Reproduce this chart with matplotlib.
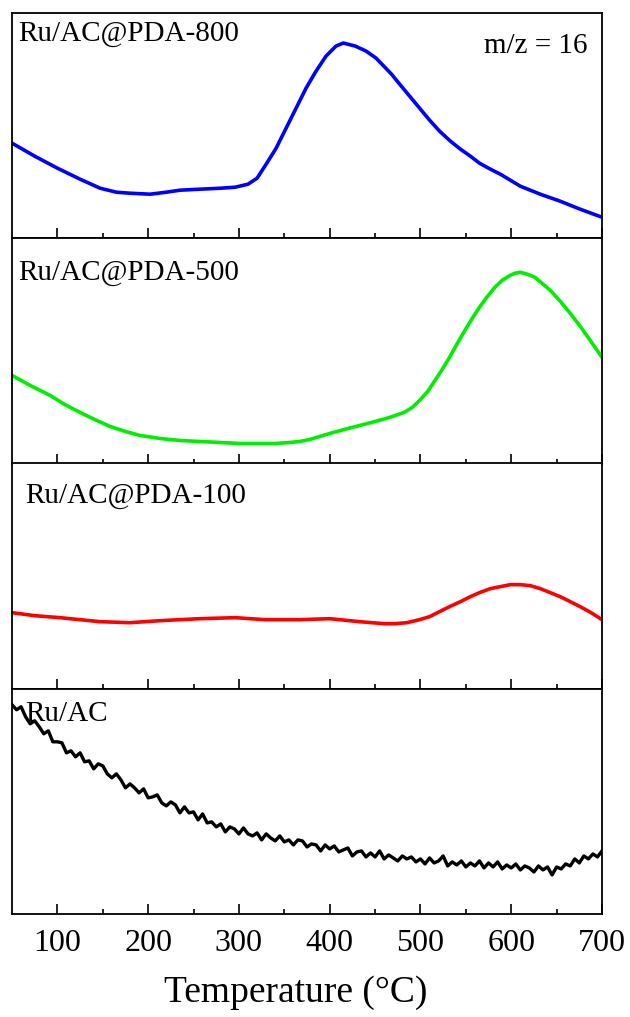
import numpy as np
import matplotlib
matplotlib.use("Agg")
import matplotlib.pyplot as plt
from matplotlib.ticker import FixedLocator

plt.rcParams['font.family'] = ['Liberation Serif', 'DejaVu Serif']

# Ru/AC@PDA-800 (blue), signal in a.u.
t800 = [50, 75, 100, 125, 147, 165, 180, 202, 220, 235, 257, 280, 296, 310, 320,
        330, 341, 352, 363, 374, 385, 396, 407, 415, 428, 440, 451, 468, 477, 488,
        499, 510, 521, 533, 544, 555, 565, 577, 588, 599, 610, 632, 654, 676, 700]
s800 = [95, 82, 70, 59, 50, 46, 45, 44, 46, 48, 49, 50, 51, 54, 60,
        74, 90, 110, 130, 150, 167, 182, 192, 195, 192, 187, 180, 164, 154, 142,
        130, 118, 107, 97, 89, 82, 75, 69, 64, 58, 52, 44, 37, 29, 21]

# Ru/AC@PDA-500 (green)
t500 = [50, 70, 92, 108, 125, 141, 158, 175, 191, 213, 235, 257, 279, 301, 323,
        340, 356, 367, 378, 389, 400, 416, 433, 450, 466, 482, 491, 499, 508, 516,
        524, 532, 540, 549, 557, 565, 573, 582, 590, 599, 604, 610, 618, 626, 634,
        643, 654, 665, 676, 687, 700]
s500 = [88, 78, 68, 59, 51, 44, 37, 32, 28, 25, 23, 22, 21, 20, 20,
        20, 21, 22, 24, 27, 30, 34, 38, 42, 46, 51, 56, 63, 72, 83,
        94, 106, 119, 133, 145, 156, 166, 176, 183, 188, 190, 191, 189, 186, 180,
        173, 162, 150, 137, 123, 106]

# Ru/AC@PDA-100 (red)
t100 = [50, 75, 103, 125, 147, 180, 213, 257, 296, 329, 367, 400, 433, 460, 472,
        485, 499, 510, 521, 532, 544, 555, 565, 577, 588, 599, 610, 621, 632, 643,
        654, 665, 676, 688, 700]
s100 = [76, 73, 71, 69, 67, 66, 68, 70, 71, 69, 69, 70, 67, 65, 65,
        66, 69, 72, 77, 82, 87, 92, 96, 100, 102, 104, 104, 103, 100, 96,
        92, 87, 82, 76, 69]

# Ru/AC (black, noisy), every 5 C from 50 to 700
tac = list(range(50, 705, 5))
sac = [209, 204, 207, 197, 190, 193, 187, 180, 183, 172,
       172, 171, 161, 163, 157, 161, 152, 153, 145, 150,
       148, 140, 136, 140, 134, 126, 130, 126, 121, 125,
       116, 117, 119, 111, 108, 112, 109, 101, 107, 101,
       102, 94, 100, 91, 92, 87, 90, 82, 87, 85,
       80, 86, 80, 78, 81, 74, 80, 76, 73, 78,
       72, 74, 69, 74, 73, 67, 70, 69, 63, 69,
       65, 68, 62, 64, 66, 58, 62, 63, 57, 61,
       57, 63, 55, 59, 56, 53, 58, 55, 57, 52,
       55, 50, 56, 51, 53, 58, 48, 52, 49, 53,
       47, 51, 48, 53, 46, 51, 47, 52, 45, 49,
       46, 50, 44, 48, 46, 42, 48, 44, 47, 39,
       47, 45, 50, 48, 55, 51, 58, 55, 60, 57,
       63]

labels = ['Ru/AC@PDA-800', 'Ru/AC@PDA-500', 'Ru/AC@PDA-100', 'Ru/AC']
colors = ['#0000ff', '#00ee00', '#ff0000', 'k']
xs = [t800, t500, t100, tac]
ys = [s800, s500, s100, sac]
lws = [2.6, 2.6, 2.6, 2.4]
lab_pos = [(0.01, 0.965), (0.01, 0.905), (0.022, 0.915), (0.022, 0.945)]

fig = plt.figure(figsize=(6.3, 10.17), dpi=100)
gs = fig.add_gridspec(4, 1, left=12/630, right=602/630, bottom=1-914/1017,
                      top=1-13/1017, hspace=0)

for i in range(4):
    ax = fig.add_subplot(gs[i])
    ax.plot(xs[i], ys[i], color=colors[i], lw=lws[i], solid_joinstyle='round')
    ax.set_xlim(50, 700)
    ax.set_ylim(0, 225)
    ax.set_yticks([])
    ax.xaxis.set_major_locator(FixedLocator([100, 200, 300, 400, 500, 600, 700]))
    ax.xaxis.set_minor_locator(FixedLocator([150, 250, 350, 450, 550, 650]))
    ax.tick_params(axis='x', which='major', direction='in', length=7, width=1.2,
                   top=False, labelsize=23, pad=11)
    ax.tick_params(axis='x', which='minor', direction='in', length=3.5, width=1.2,
                   top=False)
    for sp in ax.spines.values():
        sp.set_linewidth(1.3)
    ax.text(lab_pos[i][0], lab_pos[i][1], labels[i], transform=ax.transAxes,
            fontsize=21, va='top', ha='left')
    if i == 0:
        ax.text(0.976, 0.91, 'm/z = 16', transform=ax.transAxes, fontsize=21,
                va='top', ha='right')
    if i < 3:
        ax.tick_params(axis='x', labelbottom=False)
    else:
        ax.set_xlabel('Temperature (°C)', fontsize=27, labelpad=12, x=0.48)

plt.savefig('out.png', dpi=100)
